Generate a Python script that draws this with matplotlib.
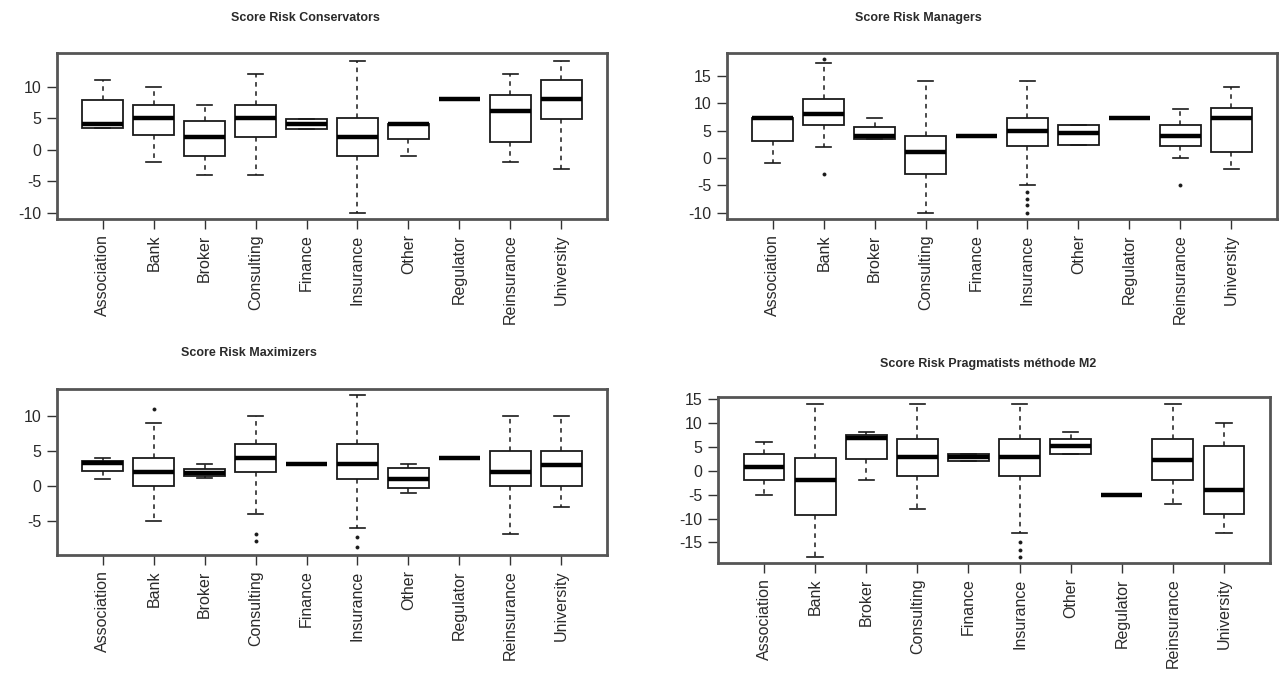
import matplotlib
matplotlib.use("Agg")
import matplotlib.pyplot as plt

plt.rcParams['font.family'] = ['Liberation Sans', 'DejaVu Sans']

# --- Data (five-number summaries) ---
categories = ['Association', 'Bank', 'Broker', 'Consulting', 'Finance',
              'Insurance', 'Other', 'Regulator', 'Reinsurance', 'University']

# Score Risk Conservators
cons_low = [3.5, -2, -4, -4, 3.3, -10, -1, 8, -2, -3]
cons_q1 = [3.5, 2.3, -1, 2, 3.3, -1, 1.7, 8, 1.2, 4.9]
cons_med = [4, 5, 2, 5, 4, 2, 4, 8, 6.1, 8.1]
cons_q3 = [7.8, 7, 4.6, 7, 4.9, 5, 4, 8, 8.6, 11.1]
cons_high = [11, 10, 7, 12, 4.9, 14, 4, 8, 12, 14]
cons_out = [[], [], [], [], [], [], [], [], [], []]

# Score Risk Managers
man_low = [-1, 2, 3.5, -10, 4, -5, 2.4, 7.2, 0, -2]
man_q1 = [3, 6, 3.5, -3, 4, 2.2, 2.4, 7.2, 2.1, 1]
man_med = [7.2, 8, 4, 1, 4, 5, 4.5, 7.2, 4, 7.3]
man_q3 = [7.2, 10.7, 5.6, 4, 4, 7.2, 6, 7.2, 6, 9.1]
man_high = [7.2, 17.3, 7.2, 14, 4, 14, 6, 7.2, 9, 13]
man_out = [[], [18, -3], [], [], [], [-6.2, -7.5, -8.5, -10], [], [], [-5], []]

# Score Risk Maximizers
max_low = [1, -5, 1.1, -4, 3.1, -6, -1, 4, -7, -3]
max_q1 = [2.1, 0, 1.4, 2, 3.1, 1, -0.3, 4, 0, 0]
max_med = [3.2, 2, 1.9, 4, 3.1, 3.1, 1, 4, 2, 3]
max_q3 = [3.5, 4, 2.4, 6, 3.1, 6, 2.5, 4, 5, 5]
max_high = [4, 9, 3.1, 10, 3.1, 13, 3.1, 4, 10, 10]
max_out = [[], [11], [], [-7, -8], [], [-7.3, -8.8], [], [], [], []]

# Score Risk Pragmatists methode M2
prag_low = [-5, -18, -2, -8, 2, -13, 3.6, -5, -7, -13]
prag_q1 = [-2, -9.3, 2.4, -1, 2, -1, 3.6, -5, -2, -9]
prag_med = [0.8, -1.8, 7, 3, 3, 3, 5.2, -5, 2.2, -4]
prag_q3 = [3.6, 2.8, 7.5, 6.8, 3.6, 6.8, 6.8, -5, 6.6, 5.2]
prag_high = [6, 14, 8.2, 14, 3.6, 14, 8.2, -5, 14, 10]
prag_out = [[], [], [], [], [], [-15, -16.5, -18], [], [], [], []]

FIG_W, FIG_H = 1282, 679
TEXT = '#2a2a2a'


def make_stats(low, q1, med, q3, high, out):
    return [dict(whislo=a, q1=b, med=c, q3=d, whishi=e, fliers=f)
            for a, b, c, d, e, f in zip(low, q1, med, q3, high, out)]


def add_axes_px(fig, left, right, top, bottom):
    return fig.add_axes([left / FIG_W, 1 - bottom / FIG_H,
                         (right - left) / FIG_W, (bottom - top) / FIG_H])


def draw_panel(ax, stats, ylim, yticks):
    ax.bxp(stats, positions=range(1, len(stats) + 1), widths=0.8,
           capwidths=0.3, patch_artist=True,
           boxprops=dict(facecolor='white', edgecolor='#1a1a1a', linewidth=1.3),
           medianprops=dict(color='black', linewidth=3.2, solid_capstyle='butt'),
           whiskerprops=dict(color='#1a1a1a', linewidth=1.1, linestyle=(0, (3, 3))),
           capprops=dict(color='#1a1a1a', linewidth=1.2),
           flierprops=dict(marker='o', markersize=2.2, markerfacecolor='#1a1a1a',
                           markeredgecolor='#1a1a1a', markeredgewidth=0.6))
    ax.set_xlim(0.1, 10.9)
    ax.set_ylim(*ylim)
    ax.set_xticks(range(1, len(categories) + 1))
    ax.set_xticklabels(categories, rotation=90, fontsize=11.5, color=TEXT)
    ax.set_yticks(yticks)
    ax.set_yticklabels([str(t) for t in yticks], fontsize=11.5, color=TEXT)
    ax.tick_params(axis='both', length=7, width=1.0, color='#333333', pad=4)
    for sp in ax.spines.values():
        sp.set_linewidth(2.0)
        sp.set_color('#555555')


fig = plt.figure(figsize=(FIG_W / 100, FIG_H / 100), dpi=100)

ax1 = add_axes_px(fig, 57, 607, 53, 219)
draw_panel(ax1, make_stats(cons_low, cons_q1, cons_med, cons_q3, cons_high, cons_out),
           (-10.96, 15.3), [-10, -5, 0, 5, 10])
fig.text(305 / FIG_W, 1 - 18 / FIG_H, 'Score Risk Conservators', ha='center', va='center',
         fontsize=9, fontweight='bold', color=TEXT)

ax2 = add_axes_px(fig, 727, 1277, 53, 219)
draw_panel(ax2, make_stats(man_low, man_q1, man_med, man_q3, man_high, man_out),
           (-11.1, 19.1), [-10, -5, 0, 5, 10, 15])
fig.text(918 / FIG_W, 1 - 18 / FIG_H, 'Score Risk Managers', ha='center', va='center',
         fontsize=9, fontweight='bold', color=TEXT)

ax3 = add_axes_px(fig, 57, 607, 389, 555)
draw_panel(ax3, make_stats(max_low, max_q1, max_med, max_q3, max_high, max_out),
           (-9.95, 13.9), [-5, 0, 5, 10])
fig.text(249 / FIG_W, 1 - 353 / FIG_H, 'Score Risk Maximizers', ha='center', va='center',
         fontsize=9, fontweight='bold', color=TEXT)

ax4 = add_axes_px(fig, 718, 1270, 397, 563)
draw_panel(ax4, make_stats(prag_low, prag_q1, prag_med, prag_q3, prag_high, prag_out),
           (-19.3, 15.5), [-15, -10, -5, 0, 5, 10, 15])
fig.text(988 / FIG_W, 1 - 364 / FIG_H, 'Score Risk Pragmatists méthode M2', ha='center',
         va='center', fontsize=9, fontweight='bold', color=TEXT)

fig.savefig('out.png', dpi=100)
